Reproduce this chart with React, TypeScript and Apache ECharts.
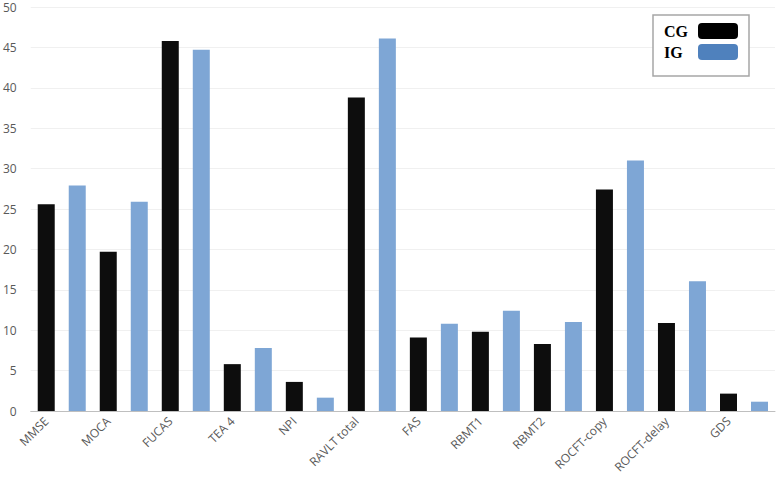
import React, { useEffect, useRef } from "react";
import * as echarts from "echarts";

const categories = [
  "MMSE", "MOCA", "FUCAS", "TEA 4", "NPI", "RAVLT total",
  "FAS", "RBMT1", "RBMT2", "ROCFT-copy", "ROCFT-delay", "GDS",
];
const cgValues = [25.6, 19.7, 45.8, 5.8, 3.6, 38.8, 9.1, 9.8, 8.3, 27.4, 10.9, 2.15];
const igValues = [27.9, 25.9, 44.7, 7.8, 1.65, 46.1, 10.8, 12.4, 11.0, 31.0, 16.05, 1.15];
const yMin = 0;
const yMax = 50;
const yInterval = 5;

export default function App() {
  const ref = useRef<HTMLDivElement>(null);
  useEffect(() => {
    document.body.style.margin = "0";
    if (!ref.current) return;
    const chart = echarts.init(ref.current, undefined, { renderer: "svg" });
    // each category occupies two slots: CG then IG
    const slots: string[] = [];
    const cgData: (number | null)[] = [];
    const igData: (number | null)[] = [];
    categories.forEach((c, i) => {
      slots.push(c);
      slots.push(c + " (IG)");
      cgData.push(cgValues[i], null);
      igData.push(null, igValues[i]);
    });
    const legendFont = {
      fontFamily: "Liberation Serif",
      fontWeight: "bold",
      fontSize: 16,
      color: "#000000",
    };
    chart.setOption({
      animation: false,
      backgroundColor: "#ffffff",
      grid: { left: 27, right: 5, top: 7, bottom: 73, containLabel: false },
      legend: {
        orient: "vertical",
        left: 653,
        top: 15,
        align: "right",
        padding: [8, 11, 16, 11],
        itemGap: 5,
        itemWidth: 40,
        itemHeight: 16,
        icon: "roundRect",
        borderColor: "#a6a6a6",
        borderWidth: 1.5,
        backgroundColor: "#ffffff",
        selectedMode: false,
        formatter: (name: string) => `{t|${name}}`,
        textStyle: {
          ...legendFont,
          rich: { t: { ...legendFont, width: 29, align: "left" } },
        },
        data: [
          { name: "CG", itemStyle: { color: "#000000" } },
          { name: "IG", itemStyle: { color: "#4f81bd" } },
        ],
      },
      xAxis: {
        type: "category",
        data: slots,
        boundaryGap: true,
        axisLine: { show: true, lineStyle: { color: "#bfbfbf", width: 1 } },
        axisTick: { show: false },
        axisLabel: {
          interval: 0,
          rotate: 45,
          margin: 8,
          fontFamily: "Open Sans",
          fontSize: 12,
          color: "#595959",
          formatter: (_v: string, i: number) => (i % 2 === 0 ? categories[i / 2] : ""),
        },
        splitLine: { show: false },
      },
      yAxis: {
        type: "value",
        min: yMin,
        max: yMax,
        interval: yInterval,
        axisLine: { show: false },
        axisTick: { show: false },
        axisLabel: {
          margin: 14,
          fontFamily: "Open Sans",
          fontSize: 12,
          color: "#595959",
        },
        splitLine: { show: true, lineStyle: { color: "#f0f0f0", width: 1 } },
      },
      series: [
        {
          name: "CG",
          type: "bar",
          data: cgData,
          barWidth: 17,
          barGap: "-100%",
          itemStyle: { color: "#0d0d0d" },
        },
        {
          name: "IG",
          type: "bar",
          data: igData,
          barWidth: 17,
          barGap: "-100%",
          itemStyle: { color: "#7ea6d5" },
        },
      ],
    });
    return () => chart.dispose();
  }, []);
  return <div ref={ref} style={{ width: 780, height: 484 }} />;
}
